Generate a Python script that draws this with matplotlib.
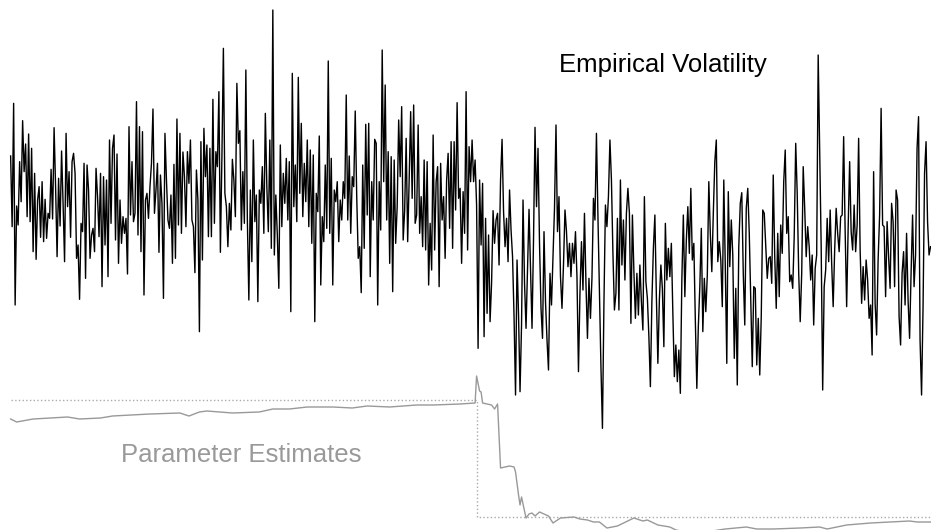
import numpy as np
import matplotlib
matplotlib.use('Agg')
import matplotlib.pyplot as plt

plt.rcParams['font.family'] = ['Liberation Sans', 'DejaVu Sans']

# empirical volatility (x1000), observations before the regime change
vol_pre = [
    882, 670, 1040, 435, 732, 675, 865, 745, 988, 835,
    918, 700, 948, 685, 905, 595, 830, 572, 750, 790,
    638, 805, 625, 752, 635, 710, 695, 842, 693, 967,
    790, 580, 815, 672, 897, 740, 565, 950, 730, 835,
    638, 865, 890, 830, 575, 615, 452, 680, 655, 860,
    515, 855, 780, 575, 645, 665, 595, 845, 760, 640,
    830, 490, 820, 615, 810, 520, 930, 680, 905, 945,
    630, 888, 560, 750, 620, 700, 650, 695, 528, 970,
    705, 865, 685, 710, 1045, 645, 970, 595, 955, 465,
    750, 770, 695, 790, 860, 1023, 710, 780, 860, 593,
    825, 740, 455, 950, 810, 690, 665, 765, 560, 857,
    575, 993, 675, 950, 650, 894, 820, 670, 895, 800,
    930, 690, 670, 532, 840, 750, 355, 925, 570, 965,
    820, 915, 640, 905, 640, 1052, 680, 895, 850, 1075,
    593, 875, 1205, 770, 730, 610, 740, 660, 872, 810,
    700, 1100, 920, 958, 660, 835, 680, 1140, 690,
    450, 780, 565, 930, 685, 765, 445, 780, 740, 850,
    650, 1010, 790, 655, 930, 605, 1320, 585, 765, 645,
    485, 915, 670, 830, 740, 875, 690, 865, 415, 1130,
    730, 855, 685, 1118, 770, 980, 700, 860, 745, 930,
    670, 900, 620, 885, 385, 770, 715, 942, 495, 700,
    625, 855, 665, 1167, 650, 875, 495, 780, 745, 805,
    625, 750, 690, 805, 755, 1065, 690, 882, 650, 820,
    790, 1017, 760, 575, 610, 472, 855, 605, 977, 705,
    980, 520, 805, 690, 932, 920, 435, 805, 660, 1200,
    805, 1095, 690, 895, 560, 880, 475, 870, 620, 730,
    990, 820, 1030, 630, 720, 935, 625, 810, 1015, 755,
    1035, 680, 705, 975, 650, 760, 610, 870, 600, 865,
    495, 680, 540, 945, 600, 805, 850, 490, 860, 690,
    760, 575, 810, 890, 665, 925, 605, 925, 720, 1042,
    755, 785, 560, 775, 650, 1075, 600, 910, 805, 930,
    805, 870, 735, 305, 810,
]

# empirical volatility (x1000), observations after the regime change
vol_post = [
    615, 800, 340, 695, 410, 645, 385, 500, 718, 620,
    690, 710, 555, 810, 932, 715, 610, 695, 565, 780,
    660, 580, 400, 165, 570, 405, 175, 375, 750, 500,
    365, 550, 722, 540, 365, 630, 968, 730, 905, 620,
    425, 335, 655, 445, 330, 240, 530, 435, 585, 725,
    975, 655, 760, 520, 425, 555, 720, 655, 550, 620,
    520, 620, 560, 655, 520, 235, 470, 625, 480, 710,
    500, 335, 515, 395, 515, 755, 690, 950, 700, 480,
    250, 65, 440, 735, 670, 760, 930, 810, 590, 420,
    470, 695, 420, 810, 555, 690, 510, 710, 785, 710,
    380, 705, 535, 395, 530, 405, 555, 445, 360, 760,
    505, 455, 340, 190, 445, 605, 705, 460, 260, 450,
    555, 485, 310, 680, 510, 605, 520, 620, 410, 220,
    315, 205, 300, 170, 510, 705, 460, 630, 730, 590,
    785, 570, 620, 390, 185, 370, 490,
    665, 355, 515, 415, 525, 805, 650, 535, 710, 865,
    930, 565, 625, 570, 430, 810, 550, 260, 775, 550,
    690, 585, 275, 485, 195, 610, 740, 772, 530, 375,
    725, 785, 650, 450, 250, 490, 485, 255, 395, 225,
    400, 720, 710, 615, 515, 575, 580, 500, 825, 580,
    425, 650, 460, 675, 590, 805, 900, 650, 700, 505,
    525, 485, 640, 920, 770, 530, 385, 530, 850, 725,
    580, 670, 610, 510, 585, 375, 545, 585, 1185, 900,
    610, 180, 490, 540, 695, 565, 720, 560, 430, 600,
    725, 650, 595, 700, 705, 940, 655, 430, 665, 865,
    655, 600, 735, 595, 675, 935, 600, 440, 550, 450,
    570, 510, 395, 435, 285, 835, 440, 345, 570, 705,
    1025, 675, 670, 460, 685, 580, 485, 740, 685, 490,
    780, 750, 400, 315, 530, 595, 435, 650, 450, 335,
    530, 705, 490, 585, 905, 1000, 330, 165, 430, 830,
    925, 685, 585, 610,
]

# running parameter estimates: observation index and estimated value
est_obs = [
    0, 4, 15, 38, 46, 60, 68, 93, 113, 119, 126, 131, 148, 166, 175, 186,
    198, 215, 228, 238, 253, 271, 282, 300, 310, 311, 313, 314, 315, 321,
    323, 325, 327, 330, 333, 336, 337, 339, 340, 341, 344, 346, 348, 350,
    353, 356, 359, 362, 367, 376, 380, 385, 389, 393, 398, 405, 416, 422,
    425, 432, 440, 444, 454, 464, 477, 491, 498, 509, 527, 540, 545, 558,
    574, 587, 600, 605, 614,
]
est_val = [
    1.41, 1.38, 1.41, 1.43, 1.41, 1.42, 1.44, 1.46, 1.47, 1.44, 1.48, 1.49,
    1.47, 1.48, 1.51, 1.51, 1.53, 1.53, 1.52, 1.54, 1.53, 1.55, 1.55, 1.56,
    1.57, 1.84, 1.69, 1.68, 1.57, 1.55, 1.51, 1.56, 0.92, 0.93, 0.94, 0.93,
    0.88, 0.65, 0.55, 0.63, 0.42, 0.46, 0.47, 0.44, 0.48, 0.46, 0.44, 0.37,
    0.42, 0.43, 0.41, 0.40, 0.38, 0.38, 0.32, 0.34, 0.42, 0.39, 0.40, 0.35,
    0.33, 0.30, 0.27, 0.28, 0.31, 0.33, 0.31, 0.31, 0.32, 0.33, 0.31, 0.35,
    0.37, 0.38, 0.39, 0.38, 0.38,
]

# true parameter: level before and after the break
true_level = [1.60, 0.43]
break_obs = 311

vol = np.array(vol_pre + vol_post) / 1000.0
t = np.arange(len(vol))

fig = plt.figure(figsize=(9.31, 5.30), dpi=100)
ax = fig.add_axes([0, 0, 1, 1])
ax2 = ax.twinx()

ax.plot(t, vol, color='black', lw=1.0)

x_end = len(vol) + 5
ax2.plot([0, break_obs, break_obs, x_end],
         [true_level[0], true_level[0], true_level[1], true_level[1]],
         color='#aaaaaa', lw=1.0, ls=':')
ax2.plot(est_obs, est_val, color='#999999', lw=1.0)

ax.set_xlim(-7.1, 614.3)
ax.set_ylim(-0.24, 1.35)
ax2.set_ylim(0.30, 5.60)
ax.axis('off')
ax2.axis('off')

fig.text(663 / 931, 1 - 71.7 / 530, 'Empirical Volatility', ha='center',
         va='baseline', fontsize=18.5, color='black')
fig.text(241.7 / 931, 1 - 461.7 / 530, 'Parameter Estimates', ha='center',
         va='baseline', fontsize=18.5, color='#999999')

fig.savefig('out.png', dpi=100)
